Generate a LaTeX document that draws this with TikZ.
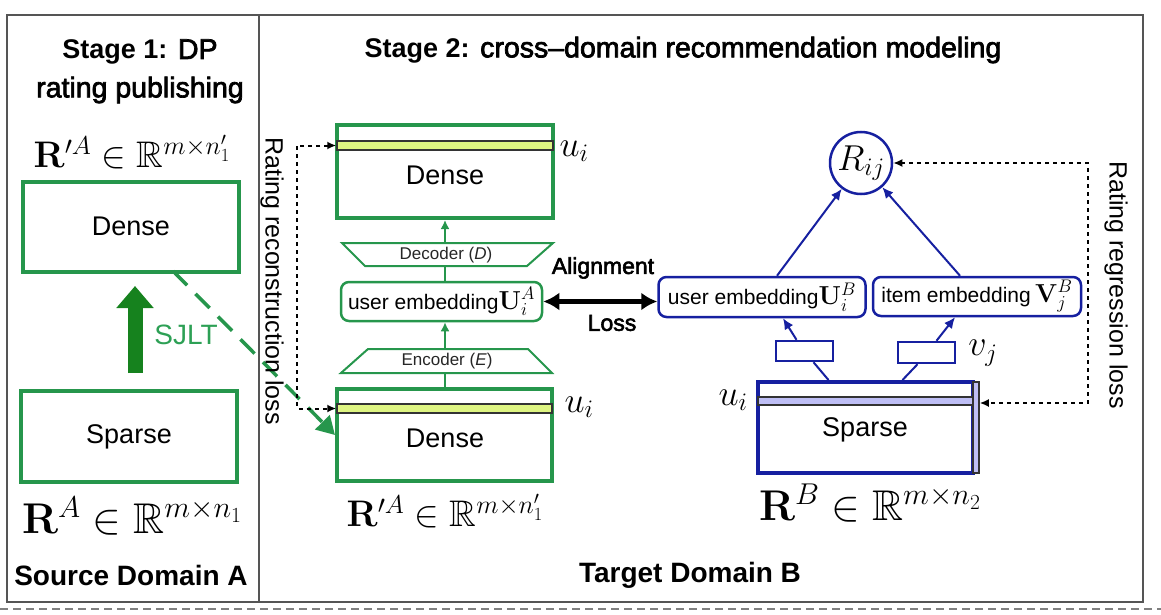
\RequirePackage{fix-cm}
\documentclass[tikz,border=0pt]{standalone}
\usepackage{amssymb}
\DeclareFontFamily{U}{msb}{}
\DeclareFontShape{U}{msb}{m}{n}{<-6> msbm5 <6-8> msbm7 <8-> msbm10}{}
\usepackage[no-math]{fontspec}
\setmainfont{Liberation Sans}
\newfontfamily\medfont{Liberation Sans}[FakeBold=2.5]
\usetikzlibrary{arrows.meta,calc}
\definecolor{gr}{RGB}{38,150,76}
\definecolor{dgr}{RGB}{22,130,30}
\definecolor{sgr}{RGB}{45,160,85}
\definecolor{bl}{RGB}{22,32,160}
\definecolor{lav}{RGB}{190,190,245}
\definecolor{yel}{RGB}{222,245,130}
\definecolor{frame}{RGB}{85,85,85}
\tikzset{
  gbox/.style={draw=gr, line width=4pt, minimum width=216pt, minimum height=90pt, inner sep=0pt, font=\fontsize{27}{30}\selectfont},
  emb/.style={rounded corners=8pt, line width=2.5pt, minimum height=39pt, inner sep=3pt, font=\fontsize{21}{24}\selectfont},
  mlab/.style={font=\fontsize{37}{40}\selectfont, inner sep=0pt},
  blab/.style={font=\fontsize{43}{46}\selectfont, inner sep=0pt},
  elab/.style={font=\fontsize{36}{40}\selectfont, inner sep=0pt},
  head/.style={font=\fontsize{28.5}{30}\selectfont, inner sep=0pt},
  dom/.style={font=\fontsize{28}{30}\selectfont\bfseries, inner sep=0pt},
  rotlab/.style={font=\fontsize{25}{28}\selectfont, rotate=-90, inner sep=0pt},
  dotline/.style={line width=2pt, dash pattern=on 4pt off 4pt, {Latex[length=9pt,width=8pt]}-{Latex[length=9pt,width=8pt]}},
  garrow/.style={draw=gr, line width=2pt, -{Latex[length=9pt,width=9pt]}},
  gline/.style={draw=gr, line width=2pt},
  barrow/.style={draw=bl, line width=2pt, -{Latex[length=11pt,width=10pt]}},
  bline/.style={draw=bl, line width=2pt},
  strip/.style={draw=black!80, line width=1.5pt}
}
\begin{document}
\begin{tikzpicture}[x=1pt,y=-1pt]
\useasboundingbox (0,0) rectangle (1161,615);
% frame
\draw[frame, line width=2pt] (7,15) rectangle (1143,602);
\draw[frame, line width=2pt] (259,15) -- (259,602);
\draw[gray, line width=1.5pt, dash pattern=on 8pt off 5pt] (0,609) -- (1161,609);

% ---------- Stage 1 ----------
\node[head] (h1a) at (140,52) {{\fontsize{27}{30}\selectfont\bfseries Stage 1:} {\medfont DP}};
\node[head] (h1b) at (140,90) {\medfont rating publishing};
\node[mlab] (rpA) at (132,152) {$\mathbf{R}'^{A}\in\mathbb{R}^{m\times n_1'}$};
\node[gbox] (ldense) at (131,226.5) {Dense};
\node[gbox, minimum height=91pt] (lsparse) at (129,436.5) {Sparse};
\node[blab] (rA) at (132,516) {$\mathbf{R}^{A}\in\mathbb{R}^{m\times n_1}$};
\node[dom] (srcA) at (131,575) {Source Domain A};
\coordinate (sjb) at (135,373);
\coordinate (sjt) at (135,286);
\draw[dgr, line width=15pt, -{Triangle[length=22pt,width=36pt]}] (sjb) -- (sjt);
\node[text=sgr, font=\fontsize{28}{30}\selectfont, inner sep=0pt] (sjlt) at (186,335) {SJLT};

% ---------- Stage 2 ----------
\node[head] (h2) at (683,50) {{\fontsize{27}{30}\selectfont\bfseries Stage 2:} {\medfont cross–domain recommendation modeling}};

% source side (middle)
\node[gbox, minimum width=216pt, minimum height=93pt] (md1) at (445,171.5) {};
\node[strip, fill=yel, minimum width=216pt, minimum height=9pt, inner sep=0pt] (s1) at (445,145.5) {};
\node[font=\fontsize{27}{30}\selectfont, inner sep=0pt] (md1t) at (445,175) {Dense};
\node[elab] (u1) at (574,151) {$u_i$};

\draw[gr, line width=2pt] (342,243) -- (553,243) -- (527,266) -- (365,266) -- cycle;
\node[font=\fontsize{17}{20}\selectfont, inner sep=0pt, text=black!85] (dec) at (446,255) {Decoder (\textit{D})};
\coordinate (dect) at (445,243);
\coordinate (decb) at (445,266);

\node[emb, draw=gr, minimum width=201pt] (uA) at (441.5,301.5) {user embedding{\fontsize{26}{28}\selectfont$\mathbf{U}_i^{A}$}};

\draw[gr, line width=2pt] (368,349) -- (528,349) -- (552,373) -- (341,373) -- cycle;
\node[font=\fontsize{17}{20}\selectfont, inner sep=0pt, text=black!85] (enc) at (447,361) {Encoder (\textit{E})};
\coordinate (enct) at (445,349);
\coordinate (encb) at (445,373);

\node[gbox, minimum width=215pt, minimum height=92pt] (md2) at (444.5,435) {};
\node[strip, fill=yel, minimum width=215pt, minimum height=9pt, inner sep=0pt] (s2) at (444.5,408.5) {};
\node[font=\fontsize{27}{30}\selectfont, inner sep=0pt] (md2t) at (445,438) {Dense};
\node[elab] (u2) at (579,407) {$u_i$};
\node[mlab] (rpA2) at (445,511) {$\mathbf{R}'^{A}\in\mathbb{R}^{m\times n_1'}$};

\draw[gline] (md2.north -| encb) -- (encb);
\draw[garrow] (enct) -- (uA.south -| enct);
\draw[gline] (uA.north -| decb) -- (decb);
\draw[garrow] (dect) -- (md1.south -| dect);

% SJLT dashed transfer
\coordinate (dst) at (173,271);
\draw[gr, line width=3.5pt, dash pattern=on 20pt off 12pt, -{Triangle[length=18pt,width=20pt]}] (dst) -- (md2.west);

% reconstruction loss
\coordinate (rc1) at (297,145.5);
\coordinate (rc2) at (297,408.5);
\draw[dotline] (s1.west) -- (rc1) -- (rc2) -- (s2.west);
\node[rotlab] (rrl) at (272,281) {Rating reconstruction loss};

% alignment
\node[emb, draw=bl, minimum width=207pt, minimum height=40pt] (uB) at (762,297) {user embedding{\fontsize{26}{28}\selectfont$\mathbf{U}_i^{B}$}};
\node[emb, draw=bl, minimum width=208pt] (iB) at (977,296.5) {item embedding{\fontsize{26}{28}\selectfont$\,\mathbf{V}_j^{B}$}};
\draw[line width=4.5pt, {Latex[length=16pt,width=18pt]}-{Latex[length=16pt,width=18pt]}] (uA.east) -- (uA.east -| uB.west);
\node[font=\fontsize{23}{26}\selectfont\medfont, inner sep=0pt] (al) at (603,268) {Alignment};
\node[font=\fontsize{23}{26}\selectfont\medfont, inner sep=0pt] (lo) at (612,323) {Loss};

% target side
\node[circle, draw=bl, line width=2.5pt, minimum size=62pt, inner sep=0pt, font=\fontsize{36}{38}\selectfont] (R) at (861,163) {$R_{ij}$};
\draw[barrow] ($(uB.north)+(15,0)$) -- (R);
\draw[barrow] ($(iB.north)+(-17,0)$) -- (R);

\node[draw=bl, line width=2.5pt, minimum width=57pt, minimum height=20pt, inner sep=0pt] (sb1) at (804.5,351) {};
\node[draw=bl, line width=2.5pt, minimum width=57pt, minimum height=21pt, inner sep=0pt] (sb2) at (926.5,352.5) {};
\node[elab] (vj) at (983,353) {$v_j$};

\node[draw=bl, line width=4pt, minimum width=215pt, minimum height=91pt, inner sep=0pt] (bs) at (865.5,427.5) {};
\node[strip, fill=lav, minimum width=215pt, minimum height=8pt, inner sep=0pt] (bs1) at (865.5,401) {};
\node[strip, fill=lav, minimum width=6pt, minimum height=91pt, inner sep=0pt] (bs2) at (976,427.5) {};
\node[font=\fontsize{27}{30}\selectfont, inner sep=0pt] (bst) at (865,430) {Sparse};
\node[elab] (u3) at (733,400) {$u_i$};
\node[blab] (rB) at (870,503) {$\mathbf{R}^{B}\in\mathbb{R}^{m\times n_2}$};

\draw[bline] ($(bs.north)+(-37,0)$) -- ($(sb1.south)+(9,0)$);
\draw[barrow] ($(sb1.north)+(-8,0)$) -- ($(uB.south)+(21,0)$);
\draw[bline] ($(bs.north)+(37,0)$) -- ($(sb2.south)+(-9,0)$);
\draw[barrow] ($(sb2.north)+(10,0)$) -- ($(iB.south)+(-22,0)$);

% regression loss
\coordinate (rg1) at (1088,163);
\coordinate (rg2) at (1088,403);
\draw[dotline] (R.east) -- (rg1) -- (rg2) -- (bs2.east |- rg2);
\node[rotlab] (rrg) at (1116,285) {Rating regression loss};

\node[dom] (tgtB) at (690,575) {Target Domain B};
\end{tikzpicture}
\end{document}
